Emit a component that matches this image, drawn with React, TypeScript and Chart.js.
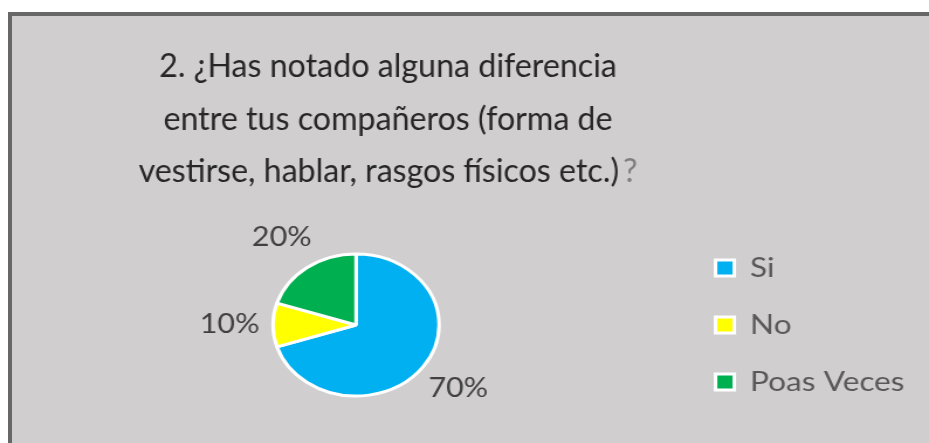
import React, { useEffect, useRef } from "react";
import { Chart, registerables } from "chart.js";

Chart.register(...registerables);

const CATEGORIES = ["Si", "No", "Poas Veces"];
const VALUES = [70, 10, 20];
const COLORS = ["#00b0f0", "#ffff00", "#00b050"];
const TITLE_LINES = [
  "2. ¿Has notado alguna diferencia",
  "entre tus compañeros (forma de",
  "vestirse, hablar, rasgos físicos etc.)?",
];

const PAGE_W = 929;
const PAGE_H = 443;
const STRETCH = 1.17;
const CANVAS_W = Math.round(PAGE_W / STRETCH);
const FONT = "Lato";

const titlePlugin = {
  id: "customTitle",
  afterDraw(chart: any) {
    const ctx = chart.ctx;
    const k = 0.86;
    const cx = 331.6;
    ctx.save();
    ctx.font = `32px ${FONT}`;
    ctx.textBaseline = "alphabetic";
    ctx.textAlign = "left";
    TITLE_LINES.forEach((line, i) => {
      const y = 77 + i * 52.5;
      let main = line;
      let tail = "";
      if (line.endsWith("?")) {
        main = line.slice(0, -1);
        tail = "?";
      }
      const wMain = ctx.measureText(main).width;
      const wTail = tail ? ctx.measureText(tail).width + 4 : 0;
      ctx.save();
      ctx.translate(cx, y);
      ctx.scale(k, 1);
      const x = -(wMain + wTail) / 2;
      ctx.fillStyle = "#262626";
      ctx.fillText(main, x, 0);
      if (tail) {
        ctx.fillStyle = "#7f7f7f";
        ctx.fillText(tail, x + wMain + 4, 0);
      }
      ctx.restore();
    });
    ctx.restore();
  },
};

const labelPlugin = {
  id: "outsideLabels",
  afterDatasetsDraw(chart: any) {
    const ctx = chart.ctx;
    const meta = chart.getDatasetMeta(0);
    const data = chart.data.datasets[0].data as number[];
    const total = data.reduce((a, b) => a + b, 0);
    ctx.save();
    ctx.font = `26px ${FONT}`;
    ctx.fillStyle = "#404040";
    ctx.textAlign = "center";
    ctx.textBaseline = "middle";
    meta.data.forEach((arc: any, i: number) => {
      const p = arc.getProps(["x", "y", "startAngle", "endAngle", "outerRadius"], true);
      const mid = (p.startAngle + p.endAngle) / 2;
      const r = p.outerRadius + 37;
      const txt = Math.round((data[i] / total) * 100) + "%";
      ctx.fillText(txt, p.x + Math.cos(mid) * r, p.y + Math.sin(mid) * r);
    });
    ctx.restore();
  },
};

export default function App() {
  const ref = useRef<HTMLCanvasElement | null>(null);

  useEffect(() => {
    if (!ref.current) return;
    const chart = new Chart(ref.current, {
      type: "pie",
      data: {
        labels: CATEGORIES,
        datasets: [
          {
            data: VALUES,
            backgroundColor: COLORS,
            borderColor: "#ffffff",
            borderWidth: 3,
            radius: 71,
          } as any,
        ],
      },
      options: {
        responsive: false,
        animation: false,
        devicePixelRatio: 1,
        layout: { padding: { left: 27, right: 11, top: 207, bottom: 0 } },
        plugins: {
          legend: {
            position: "right",
            align: "center",
            labels: {
              boxWidth: 16,
              boxHeight: 16,
              padding: 30,
              color: "#595959",
              font: { family: FONT, size: 27 },
            },
          },
          tooltip: { enabled: false },
          title: { display: false },
        },
      },
      plugins: [titlePlugin, labelPlugin],
    });
    return () => chart.destroy();
  }, []);

  return (
    <div
      style={{
        position: "fixed",
        left: 0,
        top: 0,
        width: PAGE_W,
        height: PAGE_H,
        overflow: "hidden",
        background: "#ffffff",
      }}
    >
      <div
        style={{
          position: "absolute",
          left: 8,
          top: 12,
          width: PAGE_W,
          height: PAGE_H,
          boxSizing: "border-box",
          borderLeft: "4px solid #676767",
          borderTop: "4px solid #676767",
          background: "#d0cecf",
        }}
      />
      <div
        style={{
          position: "absolute",
          left: 0,
          top: 0,
          width: CANVAS_W,
          height: PAGE_H,
          transform: `scaleX(${PAGE_W / CANVAS_W})`,
          transformOrigin: "0 0",
        }}
      >
        <canvas ref={ref} width={CANVAS_W} height={PAGE_H} style={{ display: "block" }} />
      </div>
    </div>
  );
}
